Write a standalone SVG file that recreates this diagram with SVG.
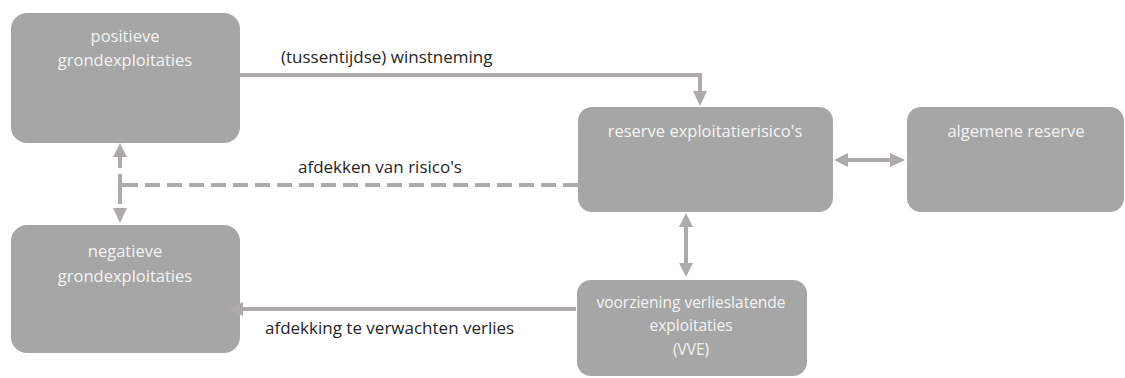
<svg xmlns="http://www.w3.org/2000/svg" width="1125" height="378" viewBox="0 0 1125 378">
<style>
.box{fill:#a6a6a6;}
.nt{font-family:"Open Sans","Liberation Sans",sans-serif;font-size:16.5px;fill:#f4f4f4;text-anchor:middle;}
.sm{font-size:15.5px;}
.lb{font-family:"Open Sans","Liberation Sans",sans-serif;font-size:17px;fill:#262626;}
.ln{stroke:#aeaaaa;stroke-width:4;fill:none;}
.dash{stroke-dasharray:15 7;}
.ah{fill:#aeaaaa;}
</style>
<rect width="1125" height="378" fill="#ffffff"/>
<g id="node-positieve"><rect class="box" x="11" y="13" width="229" height="130" rx="16"/><text class="nt" x="125" y="42">positieve</text><text class="nt" x="125" y="66">grondexploitaties</text></g>
<g id="node-negatieve"><rect class="box" x="11" y="225" width="229" height="128" rx="16"/><text class="nt" x="125" y="257">negatieve</text><text class="nt" x="125" y="282">grondexploitaties</text></g>
<g id="node-reserve"><rect class="box" x="578" y="107" width="255" height="105" rx="14"/><text class="nt" x="705" y="137">reserve exploitatierisico's</text></g>
<g id="node-algemene"><rect class="box" x="907" y="107" width="217" height="105" rx="14"/><text class="nt" x="1016" y="137">algemene reserve</text></g>
<g id="node-vve"><rect class="box" x="577" y="280" width="230" height="96" rx="14"/><text class="nt sm" x="691" y="308">voorziening verlieslatende</text><text class="nt sm" x="691" y="331">exploitaties</text><text class="nt sm" x="691" y="355">(VVE)</text></g>
<g id="connectors">
<path class="ln" d="M240,75 L700,75 L700,92"/>
<polygon class="ah" points="693,91 707,91 700,106"/>
<path class="ln dash" d="M578,185 L137,185"/>
<path class="ln" d="M137,185 L120,185"/>
<path class="ln" d="M120,155 L120,168 M120,174 L120,204"/>
<polygon class="ah" points="113,157 127,157 120,143"/>
<polygon class="ah" points="113,208 127,208 120,223"/>
<path class="ln" d="M576,309 L241,309"/>
<polygon class="ah" points="243,302 243,316 228,309"/>
<path class="ln" d="M686,226 L686,264"/>
<polygon class="ah" points="679,227 693,227 686,213"/>
<polygon class="ah" points="679,263 693,263 686,277"/>
<path class="ln" d="M846,160 L892,160"/>
<polygon class="ah" points="848,153 848,167 834,160"/>
<polygon class="ah" points="890,153 890,167 905,160"/>
</g>
<text class="lb" x="281" y="63">(tussentijdse) winstneming</text>
<text class="lb" x="298" y="173">afdekken van risico's</text>
<text class="lb" x="265" y="334">afdekking te verwachten verlies</text>
</svg>
